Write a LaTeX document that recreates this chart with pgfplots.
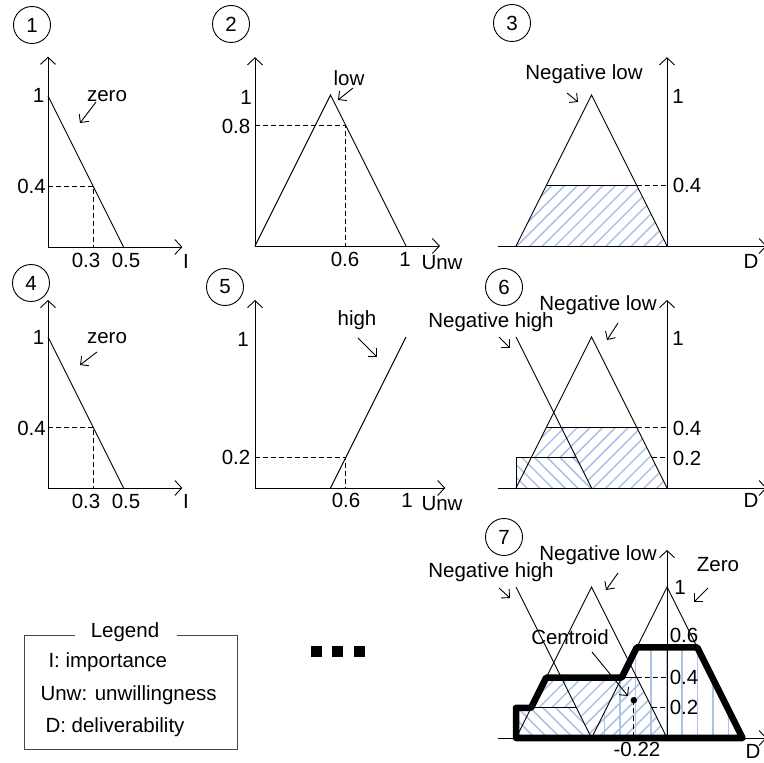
\documentclass[border=0pt]{standalone}
\usepackage{pgfplots}
\pgfplotsset{compat=1.18}
\usepackage{fontspec}
\setmainfont{Liberation Sans}
\usetikzlibrary{arrows.meta,patterns.meta}
\definecolor{hatch}{RGB}{170,195,230}
\definecolor{boxgray}{RGB}{70,70,70}

\pgfplotsset{
  panel/.style={scale only axis, hide axis, clip=false, enlargelimits=false,
    width=151bp, height=151bp, ymin=0, ymax=1, anchor=south west},
  canvas/.style={scale only axis, hide axis, clip=false, enlargelimits=false,
    at={(0bp,0bp)}, anchor=south west, width=764bp, height=763bp,
    xmin=0, xmax=764, ymin=0, ymax=763, y dir=reverse},
  thinline/.style={black, line width=0.9bp, mark=none},
  axarrows/.style={thinline, {Straight Barb[length=7bp,width=15bp]}-{Straight Barb[length=7bp,width=15bp]}},
  axarrow/.style={thinline, -{Straight Barb[length=7bp,width=15bp]}},
  dashline/.style={thinline, dash pattern=on 5bp off 3bp},
  hNE/.style={draw=none, pattern={Lines[angle=45,distance=9bp,line width=1.5bp]}, pattern color=hatch},
  hNW/.style={draw=none, pattern={Lines[angle=-45,distance=9bp,line width=1.5bp]}, pattern color=hatch},
  hV/.style={draw=none, pattern={Lines[angle=90,distance=15.5bp,line width=1.5bp]}, pattern color=hatch},
}
\tikzset{
  ann/.style={line width=0.9bp, -{Straight Barb[length=6bp,width=12bp]}},
  circ/.style={draw, circle, minimum size=37bp, inner sep=0pt, line width=0.9bp},
}

\begin{document}
\begin{tikzpicture}[font=\fontsize{20.5bp}{24bp}\selectfont]

% ---------- Panel 1 ----------
\begin{axis}[panel, at={(48bp,516bp)}, xmin=0, xmax=1]
\addplot[axarrows] coordinates {(0,1.26) (0,0) (0.89,0)};
\addplot[thinline] coordinates {(0,1) (0.5,0)};
\addplot[dashline] coordinates {(0,0.4) (0.3,0.4) (0.3,0)};
\end{axis}

% ---------- Panel 2 ----------
\begin{axis}[panel, at={(255bp,517bp)}, xmin=0, xmax=1]
\addplot[axarrows] coordinates {(0,1.25) (0,0) (1.225,0)};
\addplot[thinline] coordinates {(0,0) (0.5,1) (1,0)};
\addplot[dashline] coordinates {(0,0.8) (0.6,0.8) (0.6,0)};
\end{axis}

% ---------- Panel 3 ----------
\begin{axis}[panel, at={(516bp,517bp)}, xmin=-1, xmax=0]
\addplot[hNE] coordinates {(-1,0) (-0.8,0.4) (-0.2,0.4) (0,0)} -- cycle;
\addplot[thinline] coordinates {(-1,0) (-0.5,1) (0,0)};
\addplot[thinline] coordinates {(-0.8,0.4) (-0.2,0.4)};
\addplot[dashline] coordinates {(-0.2,0.4) (0,0.4)};
\addplot[axarrow] coordinates {(0,0) (0,1.25)};
\addplot[axarrow] coordinates {(-1.12,0) (0.66,0)};
\end{axis}

% ---------- Panel 4 ----------
\begin{axis}[panel, at={(48bp,275bp)}, xmin=0, xmax=1]
\addplot[axarrows] coordinates {(0,1.245) (0,0) (0.89,0)};
\addplot[thinline] coordinates {(0,1) (0.5,0)};
\addplot[dashline] coordinates {(0,0.4) (0.3,0.4) (0.3,0)};
\end{axis}

% ---------- Panel 5 ----------
\begin{axis}[panel, at={(255bp,275bp)}, xmin=0, xmax=1]
\addplot[axarrows] coordinates {(0,1.245) (0,0) (1.26,0)};
\addplot[thinline] coordinates {(0.5,0) (1,1)};
\addplot[dashline] coordinates {(0,0.2) (0.6,0.2) (0.6,0)};
\end{axis}

% ---------- Panel 6 ----------
\begin{axis}[panel, at={(516bp,275bp)}, xmin=-1, xmax=0]
\addplot[hNE] coordinates {(-1,0) (-0.8,0.4) (-0.2,0.4) (0,0)} -- cycle;
\addplot[draw=none, fill=white] coordinates {(-1,0) (-1,0.2) (-0.6,0.2) (-0.5,0)} -- cycle;
\addplot[hNW] coordinates {(-1,0) (-1,0.2) (-0.6,0.2) (-0.5,0)} -- cycle;
\addplot[thinline] coordinates {(-1,1) (-0.5,0)};
\addplot[thinline] coordinates {(-1,0) (-0.5,1) (0,0)};
\addplot[thinline] coordinates {(-0.8,0.4) (-0.2,0.4)};
\addplot[thinline] coordinates {(-1,0) (-1,0.2) (-0.6,0.2)};
\addplot[dashline] coordinates {(-0.2,0.4) (0,0.4)};
\addplot[dashline] coordinates {(-0.1,0.2) (0,0.2)};
\addplot[axarrow] coordinates {(0,0) (0,1.245)};
\addplot[axarrow] coordinates {(-1.12,0) (0.66,0)};
\end{axis}

% ---------- Panel 7 ----------
\begin{axis}[panel, at={(516bp,25bp)}, xmin=-1, xmax=0]
\addplot[hV] coordinates {(-0.5,0) (-0.2,0.6) (0.2,0.6) (0.5,0)} -- cycle;
\addplot[hNE] coordinates {(-1,0) (-0.8,0.4) (-0.2,0.4) (0,0)} -- cycle;
\addplot[draw=none, fill=white] coordinates {(-1,0) (-1,0.2) (-0.6,0.2) (-0.5,0)} -- cycle;
\addplot[hNW] coordinates {(-1,0) (-1,0.2) (-0.6,0.2) (-0.5,0)} -- cycle;
\addplot[thinline] coordinates {(-1,1) (-0.5,0)};
\addplot[thinline] coordinates {(-1,0) (-0.5,1) (0,0)};
\addplot[thinline] coordinates {(-0.5,0) (0,1) (0.5,0)};
\addplot[thinline] coordinates {(-0.8,0.4) (-0.2,0.4)};
\addplot[thinline] coordinates {(-1,0.2) (-0.6,0.2)};
\addplot[dashline] coordinates {(-0.2,0.4) (0,0.4)};
\addplot[dashline] coordinates {(-0.1,0.2) (0,0.2)};
\addplot[dashline] coordinates {(-0.22,0.25) (-0.22,0)};
\addplot[only marks, mark=*, mark size=3bp, black] coordinates {(-0.22,0.25)};
\addplot[axarrow] coordinates {(0,0) (0,1.245)};
\addplot[axarrow] coordinates {(-1.12,0) (0.66,0)};
\addplot[black, line width=6.5bp, line join=round, mark=none] coordinates
  {(-1,0) (-1,0.2) (-0.9,0.2) (-0.8,0.4) (-0.3,0.4) (-0.2,0.6) (0.2,0.6) (0.5,0)} -- cycle;
\end{axis}

% ---------- Annotations (pixel canvas) ----------
\begin{axis}[canvas]
% numbered circles
\node[circ] at (32,25) {1};
\node[circ] at (231,24) {2};
\node[circ] at (512,23) {3};
\node[circ] at (31,283) {4};
\node[circ] at (225,287) {5};
\node[circ] at (504,287) {6};
\node[circ] at (504,537) {7};

% panel 1
\node at (107,96) {zero};
\draw[ann] (96,102) -- (80,123);
\node at (38.5,95) {1};
\node at (31.5,186) {0.4};
\node at (86,260) {0.3};
\node at (126,260) {0.5};
\node at (186,261) {I};

% panel 2
\node at (349,78) {low};
\draw[ann] (353,88) -- (338,100);
\node at (246,97) {1};
\node at (236,126) {0.8};
\node at (345,259) {0.6};
\node at (405,259) {1};
\node at (442,263) {Unw};

% panel 3
\node at (584,74) {Negative low};
\draw[ann] (567,93) -- (578,102);
\node at (678,96) {1};
\node at (687,185) {0.4};
\node at (751,261) {D};

% panel 4
\node at (107,338) {zero};
\draw[ann] (97,352) -- (80,365);
\node at (38.5,337) {1};
\node at (31.5,428) {0.4};
\node at (86,501) {0.3};
\node at (126,501) {0.5};
\node at (186,501) {I};

% panel 5
\node at (357,320) {high};
\draw[ann] (358,338) -- (377,357);
\node at (243,339) {1};
\node at (236,457) {0.2};
\node at (346,500) {0.6};
\node at (407,500) {1};
\node at (442,504) {Unw};

% panel 6
\node at (598,305) {Negative low};
\draw[ann] (618,323) -- (607,340);
\node at (491,322) {Negative high};
\draw[ann] (499,337) -- (510,348);
\node at (678,338) {1};
\node at (687,428) {0.4};
\node at (687,458) {0.2};
\node at (751,500) {D};

% panel 7
\node at (598,555) {Negative low};
\draw[ann] (618,573) -- (606,590);
\node at (491,572) {Negative high};
\draw[ann] (499,588) -- (510,598);
\node at (718,565) {Zero};
\draw[ann] (708,588) -- (694,602);
\node at (570,637) {Centroid};
\draw[ann] (592,652) -- (628,696);
\node at (680,587) {1};
\node at (684,635) {0.6};
\node at (684,677) {0.4};
\node at (684,707) {0.2};
\node at (637,749) {-0.22};
\node at (753,751) {D};

% legend
\draw[boxgray, line width=0.9bp] (75,635) -- (24,635) -- (24,749) -- (237,749) -- (237,635) -- (177,635);
\node at (125,632) {Legend};
\node[anchor=west] at (45,662) {I: importance};
\node[anchor=west] at (37,695) {Unw: unwillingness};
\node[anchor=west] at (42,727) {D: deliverability};

% ellipsis squares
\fill (310.5,646) rectangle (321.5,657);
\fill (331.5,646) rectangle (342.5,657);
\fill (354,646) rectangle (365,657);
\end{axis}

\pgfresetboundingbox
\useasboundingbox (0,0) rectangle (764bp,763bp);
\end{tikzpicture}
\end{document}
